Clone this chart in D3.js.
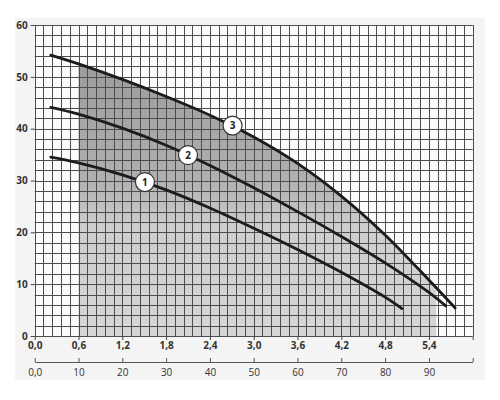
<!DOCTYPE html>
<html>
<head>
<meta charset="utf-8">
<script src="https://cdn.jsdelivr.net/npm/d3@7"></script>
<style>
  body { margin: 0; background: #ffffff; }
  svg { display: block; }
  text { font-family: "Open Sans", "DejaVu Sans", sans-serif; }
</style>
</head>
<body>
<div id="chart"></div>
<script>
// Pump curves: flow Q (m3/h) vs head H (m)
const curve1 = [[0.22, 34.5], [0.6, 33.4], [1.2, 31.1], [1.8, 28.2], [2.4, 24.7], [3.0, 20.8], [3.6, 16.7], [4.2, 12.3], [4.8, 7.5], [5.03, 5.3]];
const curve2 = [[0.22, 44.1], [0.6, 42.8], [1.2, 40.1], [1.8, 36.8], [2.4, 32.9], [3.0, 28.6], [3.6, 24.0], [4.2, 19.2], [4.8, 14.1], [5.4, 8.4], [5.63, 5.8]];
const curve3 = [[0.22, 54.2], [0.6, 52.5], [1.2, 49.5], [1.8, 46.2], [2.4, 42.6], [3.0, 38.4], [3.6, 33.3], [4.2, 27.0], [4.8, 19.5], [5.4, 10.8], [5.76, 5.4]];
const curves = [curve1, curve2, curve3];

// Number badges sitting on the curves
const badges = [
  { name: "1", q: 1.51, h: 29.7 },
  { name: "2", q: 2.10, h: 34.9 },
  { name: "3", q: 2.71, h: 40.6 }
];

// Working range (shaded) in m3/h
const shadeFrom = 0.6;
const shadeTo = 5.5;

const flowTicks = [0, 0.6, 1.2, 1.8, 2.4, 3.0, 3.6, 4.2, 4.8, 5.4, 6.0];
const headTicks = [0, 10, 20, 30, 40, 50, 60];
const litreTicks = [0, 10, 20, 30, 40, 50, 60, 70, 80, 90, 100];

const width = 500;
const height = 400;
const margin = { top: 25, right: 27.3, bottom: 64, left: 34.7 };

const svg = d3.select("#chart").append("svg")
  .attr("width", width)
  .attr("height", height);

const x = d3.scaleLinear().domain([0, 6]).range([margin.left, width - margin.right]);
const y = d3.scaleLinear().domain([0, 60]).range([height - margin.bottom, margin.top]);
// second flow scale in l/min (6 m3/h = 100 l/min)
const xl = d3.scaleLinear().domain([0, 100]).range(x.range());

// light panel behind everything
svg.append("rect")
  .attr("x", 15).attr("y", 18)
  .attr("width", 470).attr("height", 362)
  .attr("fill", "#f4f4f4");

svg.append("rect")
  .attr("x", x(0)).attr("y", y(60))
  .attr("width", x(6) - x(0)).attr("height", y(0) - y(60))
  .attr("fill", "#fbfbfb");

// gradient for the working range
const defs = svg.append("defs");
const grad = defs.append("linearGradient")
  .attr("id", "shade")
  .attr("gradientUnits", "userSpaceOnUse")
  .attr("x1", 0).attr("x2", 0)
  .attr("y1", y(55)).attr("y2", y(0));
grad.append("stop").attr("offset", "0%").attr("stop-color", "#9a9a9a");
grad.append("stop").attr("offset", "45%").attr("stop-color", "#b0b0b0");
grad.append("stop").attr("offset", "62%").attr("stop-color", "#cdced0");
grad.append("stop").attr("offset", "100%").attr("stop-color", "#d6d6d6");

defs.append("clipPath").attr("id", "range")
  .append("rect")
  .attr("x", x(shadeFrom)).attr("y", y(60))
  .attr("width", x(shadeTo) - x(shadeFrom))
  .attr("height", y(0) - y(60));

const area = d3.area()
  .x(d => x(d[0]))
  .y0(y(0))
  .y1(d => y(d[1]))
  .curve(d3.curveCatmullRom);

svg.append("path")
  .attr("clip-path", "url(#range)")
  .attr("d", area(curve3))
  .attr("fill", "url(#shade)");

// grid: every 2 l/min vertically, every 2 m horizontally
const grid = svg.append("g").attr("stroke", "#4d4d4d").attr("stroke-width", 1);
grid.selectAll(".vx")
  .data(d3.range(0, 101, 2))
  .enter().append("line")
  .attr("x1", d => Math.round(xl(d)) + 0.5)
  .attr("x2", d => Math.round(xl(d)) + 0.5)
  .attr("y1", y(60))
  .attr("y2", y(0));
grid.selectAll(".hy")
  .data(d3.range(0, 61, 2))
  .enter().append("line")
  .attr("x1", x(0))
  .attr("x2", x(6))
  .attr("y1", d => Math.round(y(d)) + 0.5)
  .attr("y2", d => Math.round(y(d)) + 0.5);

// pump curves
const line = d3.line()
  .x(d => x(d[0]))
  .y(d => y(d[1]))
  .curve(d3.curveCatmullRom);

svg.selectAll(".curve")
  .data(curves)
  .enter().append("path")
  .attr("class", "curve")
  .attr("d", line)
  .attr("fill", "none")
  .attr("stroke", "#1c1c1c")
  .attr("stroke-width", 2.8)
  .attr("stroke-linecap", "round");

// badges
const badge = svg.selectAll(".badge")
  .data(badges)
  .enter().append("g")
  .attr("transform", d => `translate(${x(d.q)},${y(d.h)})`);
badge.append("circle")
  .attr("r", 9.5)
  .attr("fill", "#ffffff")
  .attr("stroke", "#333333")
  .attr("stroke-width", 1.2);
badge.append("text")
  .attr("text-anchor", "middle")
  .attr("dy", "0.36em")
  .style("font-size", "10px")
  .style("font-weight", "700")
  .attr("fill", "#222")
  .text(d => d.name);

const comma = v => d3.format(".1f")(v).replace(".", ",");

// y axis
const yAxis = d3.axisLeft(y)
  .tickValues(headTicks)
  .tickSize(4)
  .tickPadding(3)
  .tickFormat(d3.format("d"));
svg.append("g")
  .attr("transform", `translate(${x(0)},0)`)
  .call(yAxis)
  .call(g => g.select(".domain").remove())
  .call(g => g.selectAll("line").attr("stroke", "#444"))
  .call(g => g.selectAll("text")
    .style("font-size", "10px").style("font-weight", "700")
    .attr("fill", "#333"));

// main x axis (m3/h)
const xAxis = d3.axisBottom(x)
  .tickValues(flowTicks)
  .tickSize(4)
  .tickPadding(2)
  .tickFormat(d => d === 6 ? "" : comma(d));
svg.append("g")
  .attr("transform", `translate(0,${y(0)})`)
  .call(xAxis)
  .call(g => g.select(".domain").remove())
  .call(g => g.selectAll("line").attr("stroke", "#444"))
  .call(g => g.selectAll("text")
    .style("font-size", "10px").style("font-weight", "700")
    .attr("fill", "#333"));

// second x axis (l/min)
const lAxis = d3.axisTop(xl)
  .tickValues(litreTicks)
  .tickSize(4)
  .tickSizeOuter(0)
  .tickFormat(d => d === 100 ? "" : (d === 0 ? "0,0" : d));
const la = svg.append("g")
  .attr("transform", `translate(0,362)`)
  .call(lAxis);
la.select(".domain").attr("stroke", "#555");
la.selectAll("line").attr("stroke", "#555");
la.selectAll("text")
  .attr("y", 7)
  .attr("dy", "0.71em")
  .style("font-size", "10px")
  .style("font-weight", "400")
  .attr("fill", "#333");
</script>
</body>
</html>
